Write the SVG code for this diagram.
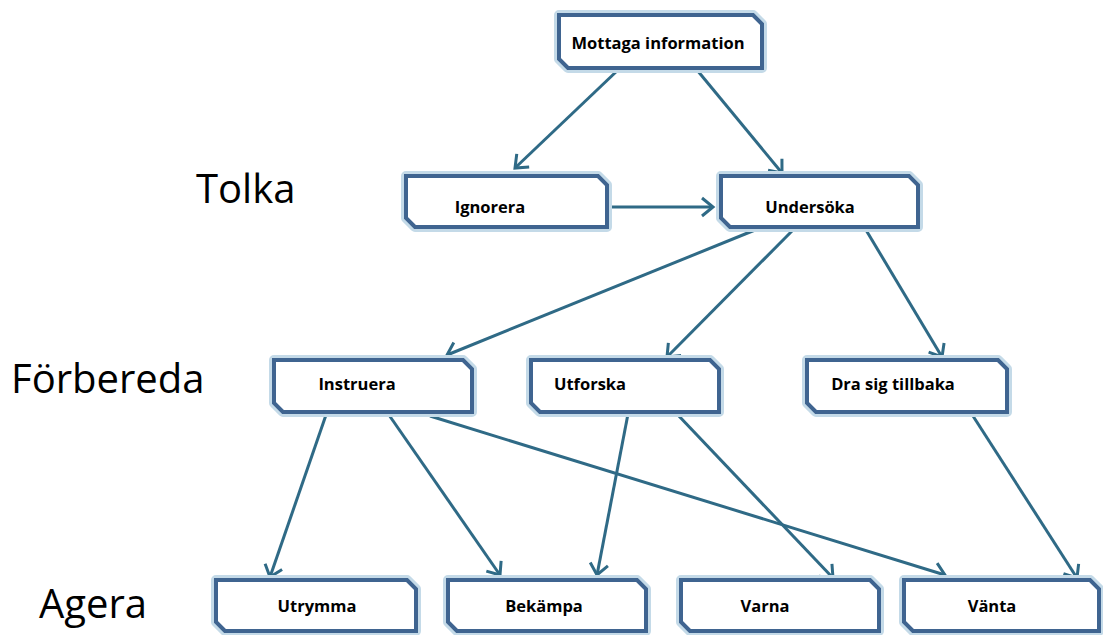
<svg xmlns="http://www.w3.org/2000/svg" width="1103" height="635" viewBox="0 0 1103 635">
  <style>
    .glow { fill: #ffffff; stroke: #c4dae8; stroke-width: 10; stroke-linejoin: round; }
    .box { fill: #ffffff; stroke: #3f6490; stroke-width: 4; stroke-linejoin: miter; }
    .lbl { font-family: "Open Sans", "Liberation Sans", sans-serif; font-weight: bold; font-size: 16.5px; fill: #000; }
    .stage { font-family: "Open Sans", "Liberation Sans", sans-serif; font-size: 40px; fill: #000; }
    .edge { fill: none; stroke: #2f6a86; stroke-width: 3; marker-end: url(#arrow); }
  </style>
  <defs>
    <marker id="arrow" markerUnits="userSpaceOnUse" markerWidth="16" markerHeight="22" refX="13" refY="11" orient="auto">
      <path d="M2,2 L13,11 L2,20" fill="none" stroke="#2f6a86" stroke-width="3"/>
    </marker>
  </defs>

  <rect width="1103" height="635" fill="#ffffff"/>

  <!-- stage labels -->
  <text class="stage" x="196" y="203">Tolka</text>
  <text class="stage" x="11" y="393">Förbereda</text>
  <text class="stage" x="39" y="618">Agera</text>

  <!-- connectors -->
  <g id="connectors">
    <line class="edge" x1="618" y1="70" x2="515" y2="168"/>
    <line class="edge" x1="697" y1="70" x2="782" y2="173"/>
    <line class="edge" x1="607" y1="207" x2="713" y2="207"/>
    <line class="edge" x1="755" y1="230" x2="447" y2="355"/>
    <line class="edge" x1="793" y1="230" x2="667" y2="357"/>
    <line class="edge" x1="866" y1="230" x2="942" y2="357"/>
    <line class="edge" x1="326" y1="415" x2="270" y2="577"/>
    <line class="edge" x1="389" y1="415" x2="500" y2="575"/>
    <line class="edge" x1="430" y1="416" x2="945" y2="575"/>
    <line class="edge" x1="628" y1="414" x2="597" y2="575"/>
    <line class="edge" x1="677" y1="414" x2="833" y2="578"/>
    <line class="edge" x1="973" y1="416" x2="1077" y2="578"/>
  </g>

  <!-- nodes: chamfered boxes (top-right and bottom-left corners cut) -->
  <g id="mottaga">
    <polygon class="glow" points="559,15 753,15 762,24 762,68 568,68 559,59"/>
    <polygon class="box" points="559,15 753,15 762,24 762,68 568,68 559,59"/>
    <text class="lbl" x="658" y="49" text-anchor="middle">Mottaga information</text>
  </g>
  <g id="ignorera">
    <polygon class="glow" points="406,176 598,176 607,185 607,227 415,227 406,218"/>
    <polygon class="box" points="406,176 598,176 607,185 607,227 415,227 406,218"/>
    <text class="lbl" x="490" y="213" text-anchor="middle">Ignorera</text>
  </g>
  <g id="undersoka">
    <polygon class="glow" points="721,176 909,176 918,185 918,227 730,227 721,218"/>
    <polygon class="box" points="721,176 909,176 918,185 918,227 730,227 721,218"/>
    <text class="lbl" x="810" y="213" text-anchor="middle">Undersöka</text>
  </g>
  <g id="instruera">
    <polygon class="glow" points="274,360 463,360 472,369 472,412 283,412 274,403"/>
    <polygon class="box" points="274,360 463,360 472,369 472,412 283,412 274,403"/>
    <text class="lbl" x="357" y="390" text-anchor="middle">Instruera</text>
  </g>
  <g id="utforska">
    <polygon class="glow" points="531,360 710,360 719,369 719,412 540,412 531,403"/>
    <polygon class="box" points="531,360 710,360 719,369 719,412 540,412 531,403"/>
    <text class="lbl" x="590" y="390" text-anchor="middle">Utforska</text>
  </g>
  <g id="dra-sig-tillbaka">
    <polygon class="glow" points="807,360 998,360 1007,369 1007,412 816,412 807,403"/>
    <polygon class="box" points="807,360 998,360 1007,369 1007,412 816,412 807,403"/>
    <text class="lbl" x="893" y="390" text-anchor="middle">Dra sig tillbaka</text>
  </g>
  <g id="utrymma">
    <polygon class="glow" points="216,580 407,580 416,589 416,631 225,631 216,622"/>
    <polygon class="box" points="216,580 407,580 416,589 416,631 225,631 216,622"/>
    <text class="lbl" x="317" y="612" text-anchor="middle">Utrymma</text>
  </g>
  <g id="bekampa">
    <polygon class="glow" points="448,580 637,580 646,589 646,631 457,631 448,622"/>
    <polygon class="box" points="448,580 637,580 646,589 646,631 457,631 448,622"/>
    <text class="lbl" x="544" y="612" text-anchor="middle">Bekämpa</text>
  </g>
  <g id="varna">
    <polygon class="glow" points="681,580 870,580 879,589 879,631 690,631 681,622"/>
    <polygon class="box" points="681,580 870,580 879,589 879,631 690,631 681,622"/>
    <text class="lbl" x="765" y="612" text-anchor="middle">Varna</text>
  </g>
  <g id="vanta">
    <polygon class="glow" points="904,580 1090,580 1099,589 1099,631 913,631 904,622"/>
    <polygon class="box" points="904,580 1090,580 1099,589 1099,631 913,631 904,622"/>
    <text class="lbl" x="992" y="612" text-anchor="middle">Vänta</text>
  </g>
</svg>
